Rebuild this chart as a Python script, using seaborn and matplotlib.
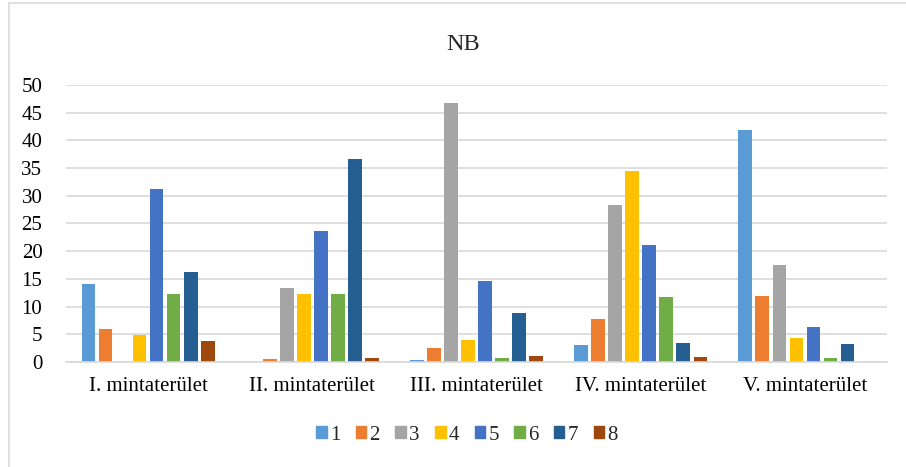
import matplotlib
matplotlib.use("Agg")
import matplotlib.pyplot as plt
import seaborn as sns
import pandas as pd
from matplotlib.patches import Rectangle
from matplotlib.lines import Line2D

categories = ["I. mintaterület", "II. mintaterület", "III. mintaterület",
              "IV. mintaterület", "V. mintaterület"]
series_names = ["1", "2", "3", "4", "5", "6", "7", "8"]
s1 = [14.1, 0.0, 0.3, 3.0, 41.8]
s2 = [6.0, 0.5, 2.6, 7.8, 11.9]
s3 = [0.0, 13.4, 46.8, 28.3, 17.5]
s4 = [4.8, 12.3, 3.9, 34.5, 4.3]
s5 = [31.2, 23.6, 14.6, 21.2, 6.4]
s6 = [12.3, 12.3, 0.8, 11.7, 0.7]
s7 = [16.2, 36.6, 8.8, 3.5, 3.2]
s8 = [3.8, 0.7, 1.1, 0.9, 0.0]
yticks = [0, 5, 10, 15, 20, 25, 30, 35, 40, 45, 50]
colors = ["#5B9BD5", "#ED7D31", "#A5A5A5", "#FFC000",
          "#4472C4", "#70AD47", "#255E91", "#9E480E"]

series = [s1, s2, s3, s4, s5, s6, s7, s8]
rows = []
for name, vals in zip(series_names, series):
    for c, v in zip(categories, vals):
        rows.append({"cat": c, "series": name, "value": v})
df = pd.DataFrame(rows)

sns.set_theme(style="white")
plt.rcParams["font.family"] = ["Liberation Serif", "DejaVu Serif"]

fig = plt.figure(figsize=(9.06, 4.67), dpi=100)
ax = fig.add_axes([66/906, 1 - 362/467, (887-66)/906, (362-85)/467])

sns.barplot(data=df, x="cat", y="value", hue="series", order=categories,
            hue_order=series_names, palette=colors, width=0.83, gap=0.2,
            ax=ax, legend=False, saturation=1, linewidth=0)

ax.set_ylim(0, 50)
ax.set_yticks(yticks)
ax.set_yticklabels([str(t) for t in yticks], fontsize=15, color="#000000")
ax.set_xticks(range(len(categories)))
ax.set_xticklabels(categories, fontsize=15, color="#000000")
ax.set_xlim(-0.5, len(categories) - 0.5)
ax.set_xlabel("")
ax.set_ylabel("")
ax.yaxis.grid(True, color="#D9D9D9", linewidth=1.2)
ax.set_axisbelow(True)
for s in ["top", "right", "left"]:
    ax.spines[s].set_visible(False)
ax.spines["bottom"].set_color("#D9D9D9")
ax.spines["bottom"].set_linewidth(1.2)
ax.tick_params(axis="y", length=0, pad=17)
ax.tick_params(axis="x", length=0, pad=11)

fig.text(463/906, 1 - 44/467, "NB", ha="center", va="center", fontsize=17.5)

handles = [Rectangle((0, 0), 1, 1, color=c) for c in colors]
fig.legend(handles, series_names, loc="center", bbox_to_anchor=(467/906, 1 - 435/467),
           ncol=8, frameon=False, fontsize=15, handlelength=0.5, handleheight=0.5,
           handletextpad=0.15, columnspacing=0.75)

fig.add_artist(Line2D([8.5/906, 8.5/906], [0, 1 - 2.5/467], transform=fig.transFigure,
                      color="#D9D9D9", linewidth=1.2))
fig.add_artist(Line2D([8.5/906, 1], [1 - 2.5/467, 1 - 2.5/467], transform=fig.transFigure,
                      color="#D9D9D9", linewidth=1.2))

fig.savefig("out.png", dpi=100, facecolor="white")
